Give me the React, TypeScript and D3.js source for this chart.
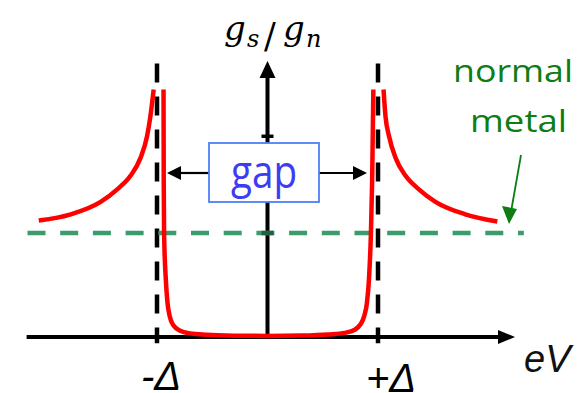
import React from "react";
import * as d3 from "d3";

// Energy axis in units of the gap Δ; conductance normalised to the normal state.
const gapEdges = [-1, 1];
const gapLabels = ["-Δ", "+Δ"];
const normalLevel = 1;
const yTickValues = [1.93];

// Coherence-peak branch below -Δ
const leftOuterV = [-2.07, -1.78, -1.51, -1.36, -1.24, -1.15, -1.09, -1.06, -1.03];
const leftOuterG = [1.12, 1.18, 1.3, 1.42, 1.55, 1.72, 1.93, 2.12, 2.38];

// Suppressed conductance inside the gap
const innerV = [-0.941, -0.939, -0.936, -0.92, -0.905, -0.885, -0.85, -0.79, -0.7, -0.55, -0.3, 0, 0.3, 0.55, 0.7, 0.79, 0.84, 0.875, 0.9, 0.918, 0.936, 0.947, 0.958];
const innerG = [2.38, 1.5, 1.0, 0.55, 0.33, 0.2, 0.11, 0.06, 0.035, 0.022, 0.013, 0.01, 0.014, 0.025, 0.04, 0.07, 0.12, 0.2, 0.33, 0.55, 1.0, 1.5, 2.38];

// Coherence-peak branch above +Δ
const rightOuterV = [1.05, 1.068, 1.1, 1.16, 1.25, 1.37, 1.52, 1.79, 2.08];
const rightOuterG = [2.38, 2.12, 1.93, 1.72, 1.55, 1.42, 1.3, 1.18, 1.11];

const W = 578;
const H = 393;

export default function App() {
  const x = d3.scaleLinear().domain([-1, 1]).range([157, 378]);
  const y = d3.scaleLinear().domain([0, 1]).range([337, 233]);

  const line = d3
    .line<[number, number]>()
    .x((d) => x(d[0]))
    .y((d) => y(d[1]))
    .curve(d3.curveMonotoneX);

  const zip = (a: number[], b: number[]) => a.map((v, i) => [v, b[i]] as [number, number]);
  const branches = [
    zip(leftOuterV, leftOuterG),
    zip(innerV, innerG),
    zip(rightOuterV, rightOuterG),
  ];

  const x0 = x(0);
  const y0 = y(0);
  const axisLeft = x(-2.18);
  const axisRightTip = 515;
  const axisTopTip = 61;

  const gapBox = { x: 209, y: 143, w: 110, h: 59 };
  const arrowY = 173;

  const green = "#3a9b6c";
  const annot = "#0d7d14";

  return (
    <svg
      width={W}
      height={H}
      viewBox={`0 0 ${W} ${H}`}
      style={{ position: "absolute", left: 0, top: 0, background: "#fff" }}
    >
      {/* horizontal energy axis */}
      <line x1={axisLeft} x2={axisRightTip - 14} y1={y0} y2={y0} stroke="#000" strokeWidth={4} />
      <polygon
        points={`${axisRightTip},${y0} ${axisRightTip - 17},${y0 - 7} ${axisRightTip - 17},${y0 + 7}`}
        fill="#000"
      />

      {/* vertical conductance axis */}
      <line x1={x0} x2={x0} y1={y0} y2={axisTopTip + 14} stroke="#000" strokeWidth={4} />
      <polygon
        points={`${x0},${axisTopTip} ${x0 - 8},${axisTopTip + 17} ${x0 + 8},${axisTopTip + 17}`}
        fill="#000"
      />
      {yTickValues.map((t) => (
        <line key={t} x1={x0 - 6} x2={x0 + 6} y1={y(t)} y2={y(t)} stroke="#000" strokeWidth={3.5} />
      ))}

      {/* gap edges */}
      {gapEdges.map((e) => (
        <line
          key={e}
          x1={x(e)}
          x2={x(e)}
          y1={y(2.63)}
          y2={y(-0.06)}
          stroke="#000"
          strokeWidth={4.5}
          strokeDasharray="19 14"
        />
      ))}

      {/* normal-metal level */}
      <line
        x1={x(-2.172)}
        x2={x(2.32)}
        y1={y(normalLevel)}
        y2={y(normalLevel)}
        stroke={green}
        strokeWidth={4.5}
        strokeDasharray="18 14.7"
      />
      <line x1={x0 - 6} x2={x0 + 6} y1={y(normalLevel)} y2={y(normalLevel)} stroke="#23603f" strokeWidth={4.5} />

      {/* superconducting conductance */}
      {branches.map((b, i) => (
        <path key={i} d={line(b) ?? ""} fill="none" stroke="#ff0000" strokeWidth={4.5} strokeLinecap="butt" />
      ))}

      {/* gap annotation */}
      <line x1={gapBox.x} x2={180} y1={arrowY} y2={arrowY} stroke="#000" strokeWidth={2.2} />
      <polygon points={`167,${arrowY} 181,${arrowY - 7} 181,${arrowY + 7}`} fill="#000" />
      <line x1={gapBox.x + gapBox.w} x2={354} y1={arrowY} y2={arrowY} stroke="#000" strokeWidth={2.2} />
      <polygon points={`367,${arrowY} 353,${arrowY - 7} 353,${arrowY + 7}`} fill="#000" />
      <rect
        x={gapBox.x}
        y={gapBox.y}
        width={gapBox.w}
        height={gapBox.h}
        fill="#fff"
        stroke="#4f7ff5"
        strokeWidth={1.8}
      />
      <text
        x={231}
        y={188}
        fontFamily="'Open Sans', sans-serif"
        fontSize={46}
        fill="#3c3cf2"
        textLength={66}
        lengthAdjust="spacingAndGlyphs"
      >
        gap
      </text>

      {/* normal metal label */}
      <text
        x={453}
        y={82}
        fontFamily="'Open Sans', sans-serif"
        fontSize={31}
        fill={annot}
        textLength={120}
        lengthAdjust="spacingAndGlyphs"
      >
        normal
      </text>
      <text
        x={470}
        y={132}
        fontFamily="'Open Sans', sans-serif"
        fontSize={31}
        fill={annot}
        textLength={97}
        lengthAdjust="spacingAndGlyphs"
      >
        metal
      </text>
      <line x1={521} y1={155} x2={511.5} y2={209} stroke={annot} strokeWidth={1.8} />
      <polygon points="509,224 502,206 517,209" fill={annot} />

      {/* axis titles */}
      <g fontFamily="'DejaVu Serif', serif" fontStyle="italic" fill="#000">
        <text x={224} y={40} fontSize={34}>g</text>
        <text x={247} y={47} fontSize={24}>s</text>
        <text x={264} y={48} fontSize={35} fontStyle="normal">/</text>
        <text x={283} y={40} fontSize={34}>g</text>
        <text x={306} y={47} fontSize={24}>n</text>
      </g>
      <text
        x={524}
        y={372}
        fontFamily="'Liberation Sans', Arial, sans-serif"
        fontStyle="italic"
        fontSize={38}
        fill="#111"
      >
        eV
      </text>
      {gapEdges.map((e, i) => (
        <text
          key={e}
          x={x(e) + (i === 0 ? -16 : -12)}
          y={i === 0 ? 390 : 392}
          fontFamily="'Liberation Sans', Arial, sans-serif"
          fontStyle="italic"
          fontSize={40}
          fill="#000"
        >
          {gapLabels[i]}
        </text>
      ))}
    </svg>
  );
}
